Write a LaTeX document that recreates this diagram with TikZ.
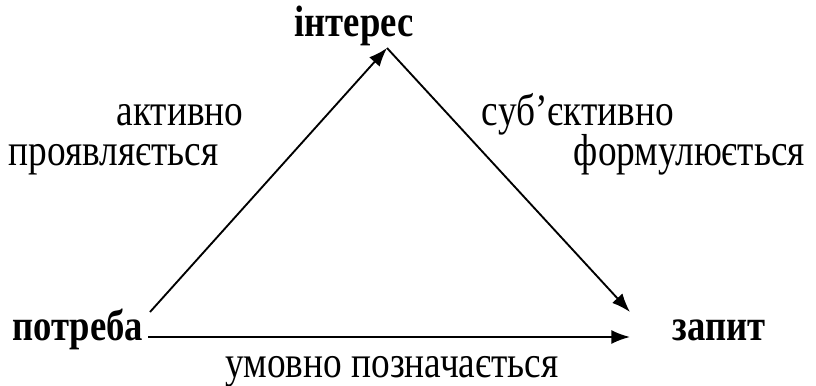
\documentclass[tikz,border=0pt]{standalone}
\usepackage{fontspec}
\setmainfont{Liberation Serif}
\usetikzlibrary{arrows.meta}
\newcommand{\tallword}[1]{\scalebox{1}[1.2]{#1}}

\begin{document}
\begin{tikzpicture}[x=0.75pt, y=-0.75pt, line width=1.4pt,
    >={Latex[length=14pt,width=10.5pt]},
    word/.style={inner sep=0pt, font=\fontsize{28}{32}\selectfont},
    term/.style={inner sep=0pt, font=\fontsize{27.5}{32}\selectfont\bfseries}]
    \useasboundingbox (0,0) rectangle (816,385);

    % Terms
    \node[term, anchor=base] (interes) at (354,37) {\tallword{інтерес}};
    \node[term, anchor=base east] (potreba) at (144,340) {\tallword{потреба}};
    \node[term, anchor=base west] (zapyt) at (672,340) {\tallword{запит}};

    % Corners
    \coordinate (top) at (387,48);
    \coordinate (left) at (150,312);
    \coordinate (right) at (630,312);
    \coordinate (tail) at (148,337);
    \coordinate (head) at (630,337);

    % Edges
    \draw[->] (left) -- (top);
    \draw[->] (top) -- (right);
    \draw[->] (tail) -- (head);

    % Labels
    \node[word, anchor=base] (aktyvno) at (180,125) {\tallword{активно}};
    \node[word, anchor=base west] (proyav) at (8,165) {\tallword{проявляється}};
    \node[word, anchor=base west] (subyekt) at (481,125) {\tallword{суб’єктивно}};
    \node[word, anchor=base east] (formul) at (806,165) {\tallword{формулюється}};
    \node[word, anchor=base] (umovno) at (392,377) {\tallword{умовно позначається}};
\end{tikzpicture}
\end{document}
